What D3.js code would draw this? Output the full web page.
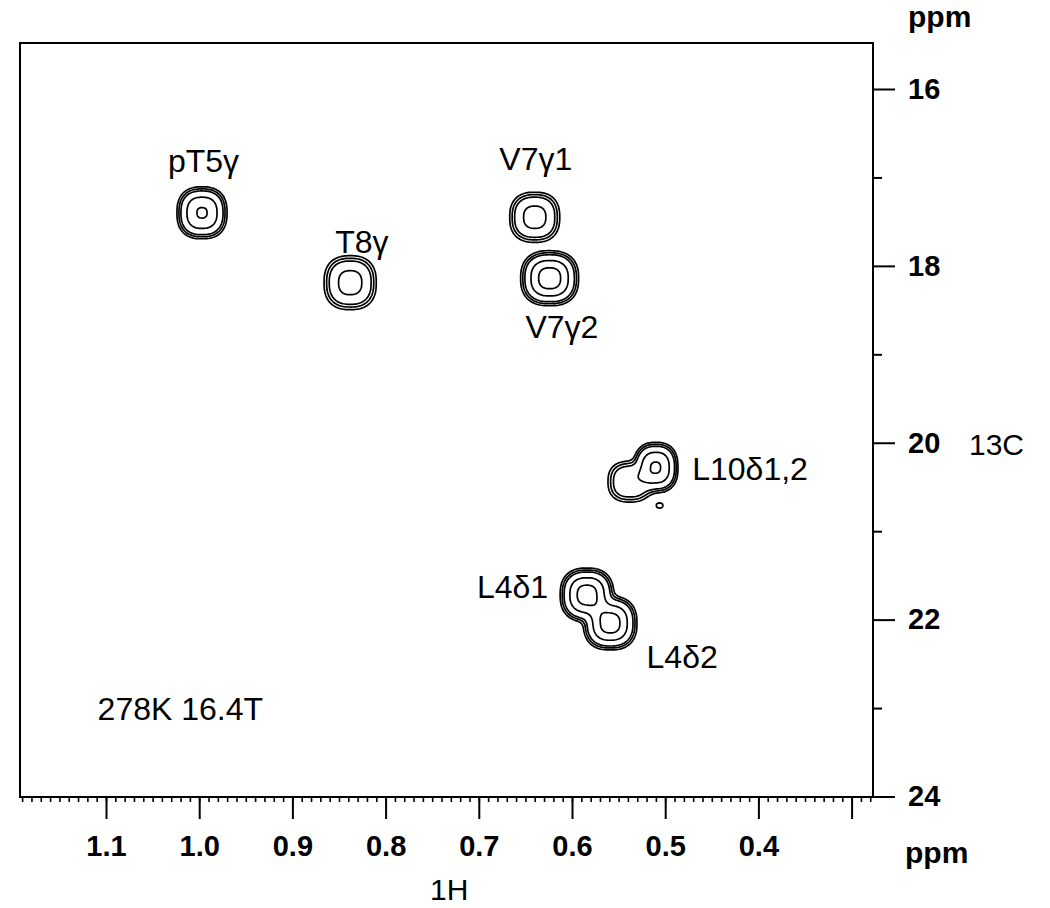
<!DOCTYPE html>
<html>
<head>
<meta charset="utf-8">
<script src="https://cdn.jsdelivr.net/npm/d3@7"></script>
<style>
    body { margin: 0; background: #fff; }
    svg { font-family: "Liberation Sans", Arial, sans-serif; }
</style>
</head>
<body>
<div id="chart"></div>
<script>
// Peak list (1H ppm, 13C ppm, height, line widths in ppm)
const peakH = [0.997, 0.838, 0.640, 0.624, 0.510, 0.538, 0.506, 0.584, 0.559];
const peakC = [17.40, 18.19, 17.45, 18.14, 20.28, 20.44, 20.71, 21.72, 22.04];
const peakHeight = [22.8, 13.4, 13.4, 29, 23, 8.5, 1.4, 28, 28];
const peakWidthH = [0.0170, 0.0191, 0.0183, 0.0191, 0.0150, 0.0172, 0.0055, 0.0177, 0.0177];
const peakWidthC = [0.186, 0.208, 0.193, 0.191, 0.180, 0.170, 0.045, 0.187, 0.187];
const contourLevels = [1, 1.8, 3, 9.5, 21.5];

// Assignment labels, anchored at (1H, 13C)
const labelText = ['pT5γ', 'T8γ', 'V7γ1', 'V7γ2', 'L10δ1,2', 'L4δ1', 'L4δ2', '278K 16.4T'];
const labelH = [1.0335, 0.854, 0.678, 0.650, 0.471, 0.702, 0.520, 1.109];
const labelC = [16.94, 17.855, 16.92, 18.81, 20.42, 21.76, 22.55, 23.14];

// Axis ticks
const xMajorTicks = [1.1, 1.0, 0.9, 0.8, 0.7, 0.6, 0.5, 0.4, 0.3];
const xLabelledTicks = [1.1, 1.0, 0.9, 0.8, 0.7, 0.6, 0.5, 0.4];
const yMajorTicks = [16, 18, 20, 22, 24];
const yMinorTicks = [17, 19, 21, 23];

const width = 1050;
const height = 908;
const margin = { top: 43, right: 177, bottom: 111, left: 20 };
const plotRight = width - margin.right;
const plotBottom = height - margin.bottom;
const shapePower = 2.5;

// Add SVG element
const svg = d3
    .select('#chart')
    .append('svg')
    .attr('width', width)
    .attr('height', height);

// Scales: ppm axes run backwards
const x = d3.scaleLinear().domain([1.1, 0.3]).range([106, 851.6]);
const y = d3.scaleLinear().domain([16, 24]).range([89, 796.5]);

// Intensity field from the peak list
const step = 1.5;
const nx = Math.ceil((plotRight - margin.left) / step);
const ny = Math.ceil((plotBottom - margin.top) / step);
const values = new Float64Array(nx * ny);
for (let j = 0; j < ny; j++) {
    const c = y.invert(margin.top + (j + 0.5) * step);
    for (let i = 0; i < nx; i++) {
        const h = x.invert(margin.left + (i + 0.5) * step);
        let v = 0;
        for (let k = 0; k < peakH.length; k++) {
            const dx = Math.abs(h - peakH[k]) / peakWidthH[k];
            const dy = Math.abs(c - peakC[k]) / peakWidthC[k];
            if (dx > 5 || dy > 5) continue;
            v += peakHeight[k] * Math.exp(-(Math.pow(dx, shapePower) + Math.pow(dy, shapePower)));
        }
        values[j * nx + i] = v;
    }
}

const contours = d3.contours().size([nx, ny]).thresholds(contourLevels)(values);
const contourPath = d3.geoPath(
    d3.geoIdentity().scale(step).translate([margin.left, margin.top])
);

svg.append('g')
    .selectAll('path')
    .data(contours)
    .join('path')
    .attr('d', contourPath)
    .attr('fill', 'none')
    .attr('stroke', '#000')
    .attr('stroke-width', 1.7)
    .attr('stroke-linejoin', 'round');

// Frame
svg.append('rect')
    .attr('x', margin.left)
    .attr('y', margin.top)
    .attr('width', plotRight - margin.left)
    .attr('height', plotBottom - margin.top)
    .attr('fill', 'none')
    .attr('stroke', '#000')
    .attr('stroke-width', 2);

// Bottom axis: minor ticks every 0.01 ppm
const xMinorTicks = d3.range(28, 120).map((d) => d / 100)
    .filter((d) => x(d) > margin.left && x(d) < plotRight);
const xMinor = svg.append('g')
    .attr('transform', `translate(0, ${plotBottom})`)
    .call(d3.axisBottom(x).tickValues(xMinorTicks).tickSize(5).tickFormat(''));
xMinor.select('.domain').remove();
xMinor.selectAll('line').attr('stroke-width', 1.6);

const xMajor = svg.append('g')
    .attr('transform', `translate(0, ${plotBottom})`)
    .call(
        d3.axisBottom(x)
            .tickValues(xMajorTicks)
            .tickSize(22)
            .tickPadding(16)
            .tickFormat((d) => (xLabelledTicks.includes(d) ? d3.format('.1f')(d) : ''))
    );
xMajor.select('.domain').remove();
xMajor.selectAll('line').attr('stroke-width', 2);
xMajor.selectAll('text')
    .attr('fill', '#000')
    .style('font-size', '29px')
    .style('font-weight', 'bold')
    .style('font-family', '"Liberation Sans", Arial, sans-serif');

// Right axis
const yMinor = svg.append('g')
    .attr('transform', `translate(${plotRight}, 0)`)
    .call(d3.axisRight(y).tickValues(yMinorTicks).tickSize(9).tickFormat(''));
yMinor.select('.domain').remove();
yMinor.selectAll('line').attr('stroke-width', 2);

const yMajor = svg.append('g')
    .attr('transform', `translate(${plotRight}, 0)`)
    .call(d3.axisRight(y).tickValues(yMajorTicks).tickSize(22).tickPadding(13));
yMajor.select('.domain').remove();
yMajor.selectAll('line').attr('stroke-width', 2);
yMajor.selectAll('text')
    .attr('fill', '#000')
    .style('font-size', '29px')
    .style('font-weight', 'bold')
    .style('font-family', '"Liberation Sans", Arial, sans-serif');

// Axis titles
svg.append('text')
    .attr('x', 908)
    .attr('y', 27)
    .style('font-size', '30px')
    .style('font-weight', 'bold')
    .text('ppm');
svg.append('text')
    .attr('x', 905)
    .attr('y', 863)
    .style('font-size', '30px')
    .style('font-weight', 'bold')
    .text('ppm');
svg.append('text')
    .attr('x', 969)
    .attr('y', 455)
    .style('font-size', '30px')
    .text('13C');
svg.append('text')
    .attr('x', 430)
    .attr('y', 900)
    .style('font-size', '30px')
    .text('1H');

// Peak labels
svg.append('g')
    .selectAll('text')
    .data(labelText)
    .join('text')
    .attr('x', (d, i) => x(labelH[i]))
    .attr('y', (d, i) => y(labelC[i]))
    .style('font-size', '32px')
    .text((d) => d);
</script>
</body>
</html>
